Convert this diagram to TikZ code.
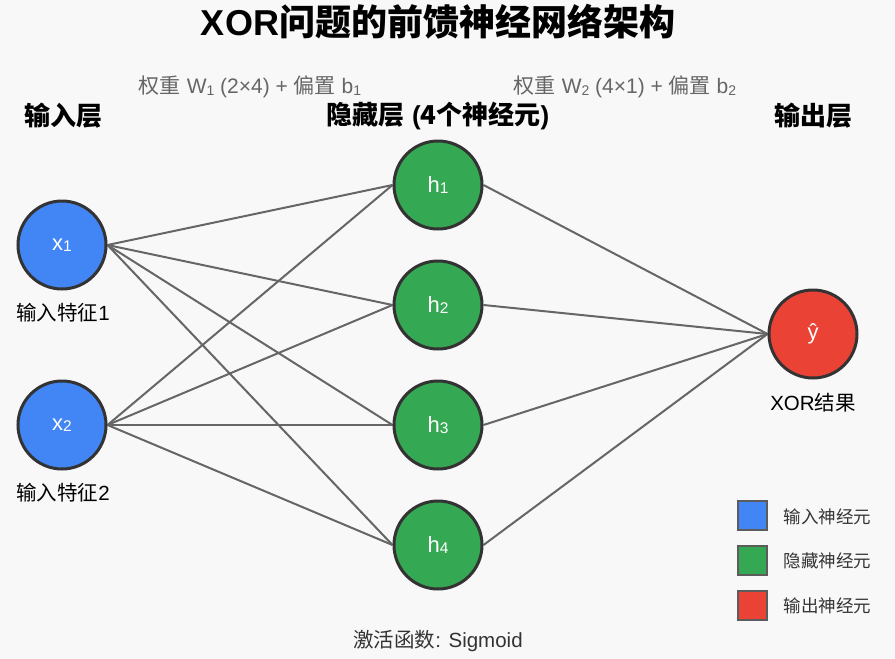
\documentclass[tikz,border=0pt]{standalone}
\usepackage{fontspec}
\setmainfont{Liberation Sans}
\newfontfamily\cjk{Noto Sans CJK SC}
\usetikzlibrary{backgrounds}
\definecolor{bgc}{HTML}{F8F8F8}
\definecolor{inblue}{HTML}{4285F4}
\definecolor{hidgreen}{HTML}{34A853}
\definecolor{outred}{HTML}{EA4335}
\definecolor{strokec}{HTML}{333333}
\definecolor{linec}{HTML}{666666}
\definecolor{graytxt}{HTML}{666666}
\definecolor{darktxt}{HTML}{333333}
\newcommand\subd[1]{\raisebox{-0.12ex}{\fontsize{14}{15}\selectfont #1}}
\newcommand\subn[1]{\raisebox{-0.12ex}{\fontsize{15.5}{17}\selectfont #1}}
\pgfdeclarelayer{bglayer}
\pgfdeclarelayer{edgelayer}
\pgfsetlayers{bglayer,edgelayer,main}
\tikzset{
  neuron/.style={circle, draw=strokec, line width=3pt, minimum size=88pt, inner sep=0pt, text=white, font=\fontsize{22}{25}\selectfont},
  conn/.style={draw=linec, line width=2pt},
  layerlabel/.style={font=\fontsize{26}{29}\selectfont\bfseries, text=black},
  weightlabel/.style={font=\fontsize{21}{24}\selectfont, text=graytxt},
  sublabel/.style={font=\fontsize{20.5}{23}\selectfont, text=black},
  legendbox/.style={draw=linec!90!black, line width=2pt, minimum size=29pt, inner sep=0pt},
  legendtext/.style={font=\fontsize{17.5}{20}\selectfont, text=darktxt, anchor=west},
}
\begin{document}
\begin{tikzpicture}[x=1pt,y=-1pt]
\begin{pgfonlayer}{bglayer}
\fill[bgc] (0,0) rectangle (895,659);
\end{pgfonlayer}
\useasboundingbox (0,0) rectangle (895,659);

% title
\node[font=\fontsize{36}{41}\selectfont\bfseries] (title) at (438,22) {XOR{\cjk 问题的前馈神经网络架构}};

% weight labels
\node[weightlabel] (w1) at (250,87) {{\cjk 权重} W\subd{1} (2×4) + {\cjk 偏置} b\subd{1}};
\node[weightlabel] (w2) at (625,87) {{\cjk 权重} W\subd{2} (4×1) + {\cjk 偏置} b\subd{2}};

% layer labels
\node[layerlabel] (l1) at (63,116) {\cjk 输入层};
\node[layerlabel] (l2) at (438,116) {{\cjk 隐藏层} ({\cjk 4个神经元})};
\node[layerlabel] (l3) at (813,116) {\cjk 输出层};

% neurons
\node[neuron, fill=inblue] (x1) at (62,245) {x\subn{1}};
\node[neuron, fill=inblue] (x2) at (62,425) {x\subn{2}};
\node[neuron, fill=hidgreen] (h1) at (438,185) {h\subn{1}};
\node[neuron, fill=hidgreen] (h2) at (438,305) {h\subn{2}};
\node[neuron, fill=hidgreen] (h3) at (438,425) {h\subn{3}};
\node[neuron, fill=hidgreen] (h4) at (438,545) {h\subn{4}};
\node[neuron, fill=outred] (y) at (813,334) {ŷ};

% labels under nodes
\node[sublabel] (s1) at (63,313) {{\cjk 输入特征}1};
\node[sublabel] (s2) at (63,493) {{\cjk 输入特征}2};
\node[sublabel] (s3) at (813,403) {XOR{\cjk 结果}};

% connections
\begin{pgfonlayer}{edgelayer}
\foreach \i in {x1,x2}{
  \foreach \j in {h1,h2,h3,h4}{
    \draw[conn] (\i.east) -- (\j.west);
  }
}
\foreach \j in {h1,h2,h3,h4}{
  \draw[conn] (\j.east) -- (y.west);
}
\end{pgfonlayer}

% legend
\node[legendbox, fill=inblue] (lb1) at (752.5,515) {};
\node[legendbox, fill=hidgreen] (lb2) at (752.5,560) {};
\node[legendbox, fill=outred] (lb3) at (752.5,605) {};
\node[legendtext] (lt1) at (780,517) {\cjk 输入神经元};
\node[legendtext] (lt2) at (780,561) {\cjk 隐藏神经元};
\node[legendtext] (lt3) at (780,606) {\cjk 输出神经元};

% bottom
\node[font=\fontsize{20.5}{23}\selectfont, text=darktxt] (act) at (438,641) {{\cjk 激活函数}: Sigmoid};
\end{tikzpicture}
\end{document}
